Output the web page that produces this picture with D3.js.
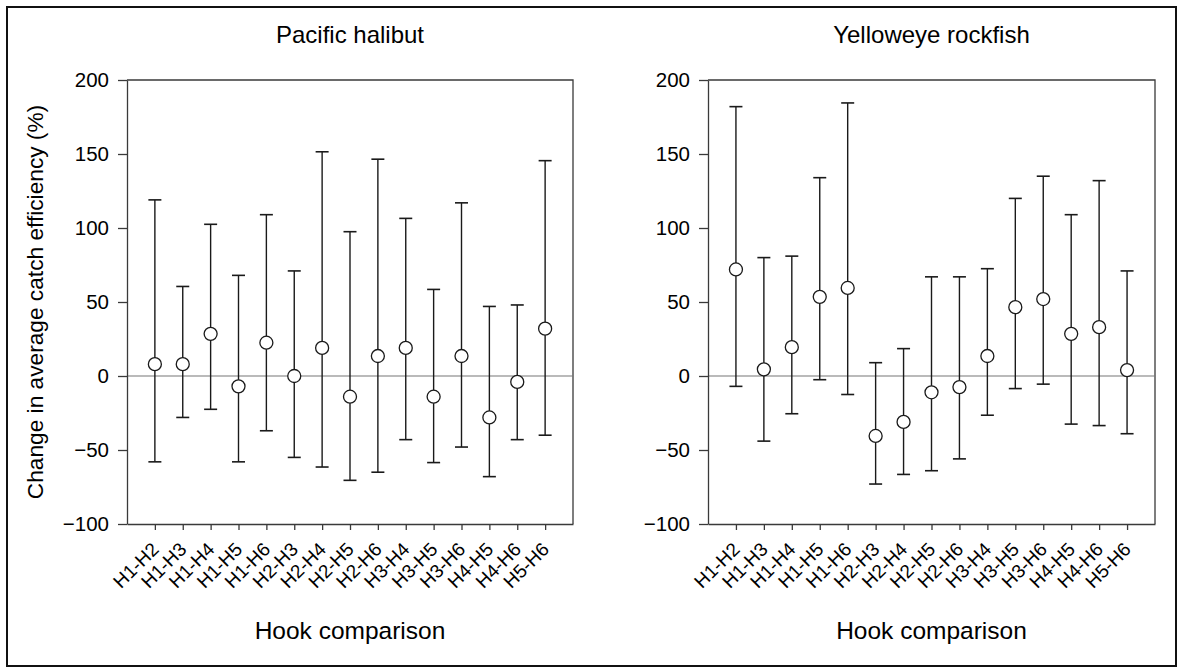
<!DOCTYPE html>
<html>
<head>
<meta charset="utf-8">
<script src="https://cdn.jsdelivr.net/npm/d3@7"></script>
<style>
  html, body { margin: 0; padding: 0; background: #fff; }
  svg { display: block; font-family: "Liberation Sans", Arial, sans-serif; }
</style>
</head>
<body>
<svg id="chart" width="1177" height="671"></svg>
<script>
// ---- data ----
const categories = ["H1-H2","H1-H3","H1-H4","H1-H5","H1-H6","H2-H3","H2-H4","H2-H5","H2-H6","H3-H4","H3-H5","H3-H6","H4-H5","H4-H6","H5-H6"];
const yTicks = [-100, -50, 0, 50, 100, 150, 200];

const halibutMean  = [8, 8, 28.5, -7, 22.5, 0, 19, -14, 13.5, 19, -14, 13.5, -28, -4, 32];
const halibutUpper = [119, 60.5, 102.5, 68, 109, 71, 151.5, 97.5, 146.5, 106.5, 58.5, 117, 47, 48, 145.5];
const halibutLower = [-58, -28, -22.5, -58, -37, -55, -61.5, -70.5, -65, -43, -58.5, -48, -68, -43, -40];

const rockfishMean  = [72, 4.5, 19.5, 53.5, 59.5, -40.5, -31, -11, -7.5, 13.5, 46.5, 52, 28.5, 33, 4];
const rockfishUpper = [182, 80, 81, 134, 184.5, 9, 18.5, 67, 67, 72.5, 120, 135, 109, 132, 71];
const rockfishLower = [-7, -44, -25.5, -2.5, -12.5, -73, -66.5, -64, -56, -26.5, -8.5, -5.5, -32.5, -33.5, -39];

const panels = [
  { title: "Pacific halibut", mean: halibutMean, upper: halibutUpper, lower: halibutLower, left: 127, right: 573 },
  { title: "Yelloweye rockfish", mean: rockfishMean, upper: rockfishUpper, lower: rockfishLower, left: 708, right: 1155 }
];

const svg = d3.select("#chart");
const plotTop = 80, plotBottom = 524;
const ink = "#1a1a1a";
const axisColor = "#3a3a3a";
const font = "'Liberation Sans', Arial, sans-serif";

// outer frame
svg.append("rect")
  .attr("x", 7).attr("y", 7).attr("width", 1169).attr("height", 659)
  .attr("fill", "none").attr("stroke", "#111").attr("stroke-width", 2);

const y = d3.scaleLinear().domain([-100, 200]).range([plotBottom, plotTop]);

panels.forEach((p) => {
  const x = d3.scaleLinear().domain([0, categories.length + 1]).range([p.left, p.right]);
  const g = svg.append("g");

  // box (top and right)
  g.append("path")
    .attr("d", `M${p.left},${plotTop}H${p.right}V${plotBottom}`)
    .attr("fill", "none").attr("stroke", axisColor).attr("stroke-width", 1.3);

  // zero line
  g.append("line")
    .attr("x1", p.left).attr("x2", p.right)
    .attr("y1", y(0)).attr("y2", y(0))
    .attr("stroke", "#777").attr("stroke-width", 1.2);

  // y axis
  const ya = g.append("g").attr("transform", `translate(${p.left},0)`)
    .call(d3.axisLeft(y).tickValues(yTicks).tickSize(9).tickPadding(9).tickSizeOuter(0));
  ya.select(".domain").attr("stroke", axisColor).attr("stroke-width", 1.3);
  ya.selectAll(".tick line").attr("stroke", axisColor).attr("stroke-width", 1.3);
  ya.selectAll(".tick text")
    .attr("font-size", 20.5).attr("fill", "#000").attr("font-family", font);

  // x axis
  const xa = g.append("g").attr("transform", `translate(0,${plotBottom})`)
    .call(d3.axisBottom(x).tickValues(d3.range(1, categories.length + 1))
      .tickFormat(i => categories[i - 1]).tickSize(6).tickSizeOuter(0));
  xa.select(".domain").attr("stroke", axisColor).attr("stroke-width", 1.3);
  xa.selectAll(".tick line").attr("stroke", axisColor).attr("stroke-width", 1.3);
  xa.selectAll(".tick text")
    .attr("font-size", 19).attr("fill", "#000").attr("font-family", font)
    .attr("text-anchor", "end")
    .attr("x", 0).attr("y", 0).attr("dy", 0)
    .attr("transform", "translate(4.5,26.5) rotate(-45)");

  // error bars
  const idx = d3.range(categories.length);
  const capW = 6.5;
  g.selectAll(".bar").data(idx).join("line")
    .attr("x1", i => x(i + 1)).attr("x2", i => x(i + 1))
    .attr("y1", i => y(p.upper[i])).attr("y2", i => y(p.lower[i]))
    .attr("stroke", ink).attr("stroke-width", 1.4);
  g.selectAll(".capU").data(idx).join("line")
    .attr("x1", i => x(i + 1) - capW).attr("x2", i => x(i + 1) + capW)
    .attr("y1", i => y(p.upper[i])).attr("y2", i => y(p.upper[i]))
    .attr("stroke", ink).attr("stroke-width", 1.6);
  g.selectAll(".capL").data(idx).join("line")
    .attr("x1", i => x(i + 1) - capW).attr("x2", i => x(i + 1) + capW)
    .attr("y1", i => y(p.lower[i])).attr("y2", i => y(p.lower[i]))
    .attr("stroke", ink).attr("stroke-width", 1.6);
  g.selectAll(".pt").data(idx).join("circle")
    .attr("cx", i => x(i + 1)).attr("cy", i => y(p.mean[i]))
    .attr("r", 6.5)
    .attr("fill", "#fff").attr("stroke", ink).attr("stroke-width", 1.3);

  // title
  const cx = (p.left + p.right) / 2;
  g.append("text")
    .attr("x", cx).attr("y", 43)
    .attr("text-anchor", "middle").attr("font-size", 24).attr("fill", "#000")
    .text(p.title);

  // x axis title
  g.append("text")
    .attr("x", cx).attr("y", 639)
    .attr("text-anchor", "middle").attr("font-size", 24.5).attr("fill", "#000")
    .text("Hook comparison");
});

// y axis title
svg.append("text")
  .attr("transform", `translate(43,${(plotTop + plotBottom) / 2}) rotate(-90)`)
  .attr("text-anchor", "middle").attr("font-size", 22.7).attr("fill", "#000")
  .text("Change in average catch efficiency (%)");
</script>
</body>
</html>
